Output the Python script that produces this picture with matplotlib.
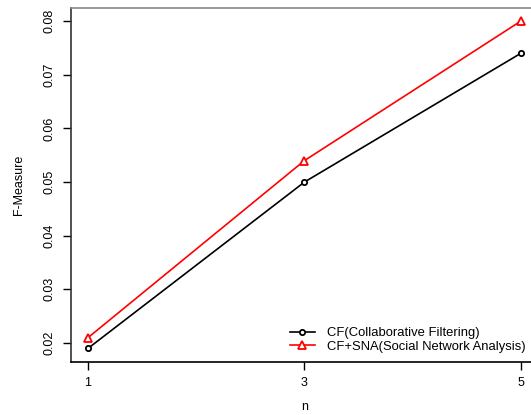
import matplotlib
matplotlib.use("Agg")
import matplotlib.pyplot as plt

# data
n_values = [1, 3, 5]
cf = [0.019, 0.050, 0.074]
cf_sna = [0.021, 0.054, 0.080]
y_ticks = [0.02, 0.03, 0.04, 0.05, 0.06, 0.07, 0.08]
labels = ["CF(Collaborative Filtering)", "CF+SNA(Social Network Analysis)"]

plt.rcParams['font.family'] = ['Liberation Sans', 'DejaVu Sans']

fig = plt.figure(figsize=(5.31, 4.15), dpi=100)
ax = fig.add_axes([0.1331, 0.1289, 0.8806, 0.852])

ax.plot(n_values, cf, color='black', lw=1.2, marker='o', ms=3.8,
        mfc='white', mec='black', mew=1.3, label=labels[0])
ax.plot(n_values, cf_sna, color='red', lw=1.2, marker='^', ms=6,
        mfc='white', mec='red', mew=1.3, label=labels[1])

# R style 4% padding
xpad = (max(n_values) - min(n_values)) * 0.04
ymin = min(cf + cf_sna)
ymax = max(cf + cf_sna)
ypad = (ymax - ymin) * 0.04
ax.set_xlim(min(n_values) - xpad, max(n_values) + xpad)
ax.set_ylim(ymin - ypad, ymax + ypad)

ax.set_xticks(n_values)
ax.set_xticklabels([str(v) for v in n_values])
ax.set_yticks(y_ticks)
ax.set_yticklabels([f"{v:.2f}" for v in y_ticks], rotation=90, va='center')
ax.tick_params(direction='out', length=6, width=1, labelsize=9, pad=5)

ax.spines['top'].set_color('#888888')
ax.spines['right'].set_visible(False)
ax.spines['left'].set_color('#333333')
for s in ax.spines.values():
    s.set_linewidth(1.2)

ax.set_xlabel('n', fontsize=9, labelpad=9)
ax.set_ylabel('F-Measure', fontsize=9, labelpad=13)

# legend sits low right; kept just inside the image
ax.legend(loc='upper left', bbox_to_anchor=(290 / 531, 1 - 327 / 415),
          bbox_transform=fig.transFigure, frameon=False, fontsize=9.4,
          handlelength=1.9, handletextpad=0.9, labelspacing=0.1,
          borderaxespad=0, borderpad=0)

fig.savefig('out.png', dpi=100)
